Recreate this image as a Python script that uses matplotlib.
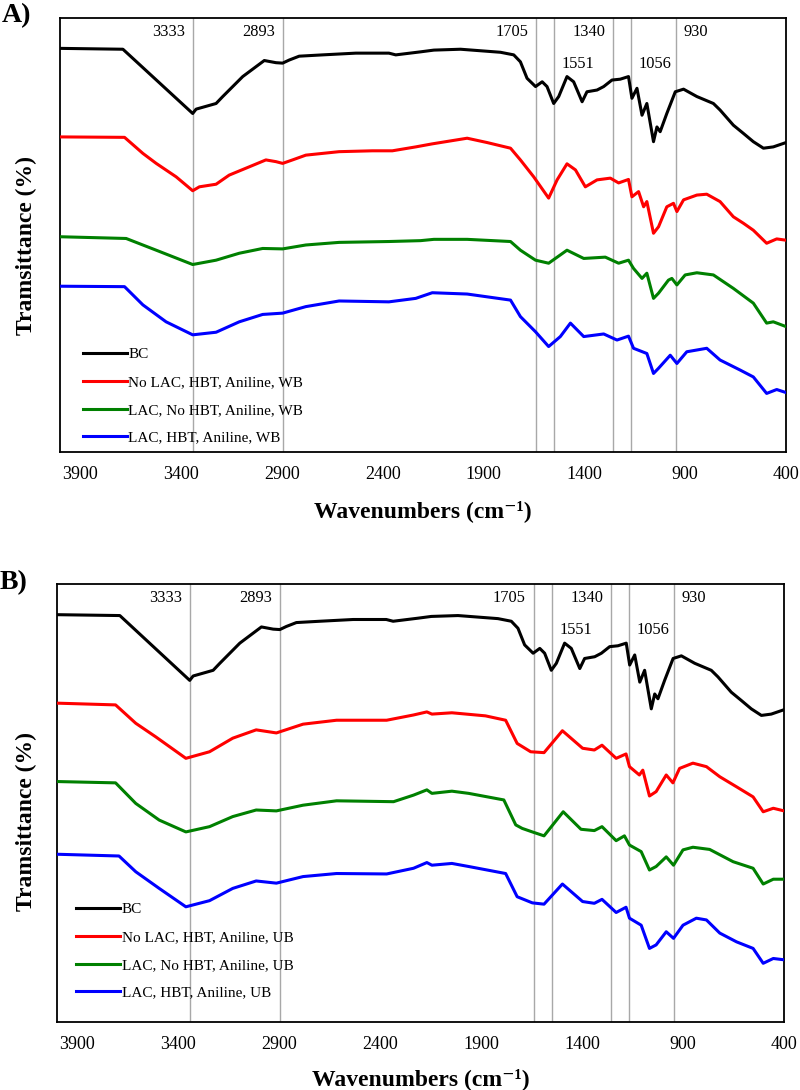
import matplotlib
matplotlib.use("Agg")
import matplotlib.pyplot as plt

plt.rcParams['font.family'] = ['Liberation Serif', 'DejaVu Serif']

# BC spectrum (same sample in both panels)
wn_bc = [4000, 3688, 3342, 3325, 3226, 3193, 3094, 2987, 2929, 2896, 2864, 2814, 2698, 2533, 2369, 2335, 2212, 2146,
         2014, 1816, 1750, 1717, 1684, 1642, 1609, 1585, 1552, 1527, 1486, 1453, 1411, 1387, 1337, 1304, 1263, 1222,
         1181, 1164, 1139, 1114, 1090, 1057, 1040, 1024, 991, 949, 908, 842, 760, 727, 661, 611, 562, 512, 463, 400]
t_bc = [93.0, 92.8, 78.0, 79.0, 80.3, 81.9, 86.5, 90.2, 89.7, 89.6, 90.3, 91.2, 91.5, 91.9, 91.9, 91.5, 92.2, 92.6,
        92.8, 92.1, 91.5, 89.9, 86.1, 84.2, 85.3, 84.2, 80.3, 81.9, 86.5, 85.3, 80.7, 83.0, 83.4, 84.2, 85.7, 85.9,
        86.5, 81.5, 83.8, 77.6, 80.3, 71.5, 74.9, 73.8, 78.0, 83.0, 83.6, 81.9, 80.3, 78.8, 75.3, 73.4, 71.5, 70.0,
        70.3, 71.3]

# panel A (WB)
wn_red_a = [4000, 3680, 3589, 3523, 3424, 3342, 3309, 3226, 3161, 3062, 2979, 2929, 2896, 2847, 2781, 2616, 2451, 2352,
            2236, 2154, 1981, 1882, 1766, 1717, 1651, 1577, 1535, 1486, 1444, 1395, 1337, 1271, 1230, 1181, 1164, 1131,
            1106, 1090, 1057, 1032, 991, 958, 941, 908, 842, 793, 727, 661, 611, 562, 496, 446, 400]
t_red_a = [72.6, 72.5, 68.8, 66.5, 63.4, 60.2, 61.1, 61.7, 63.8, 65.7, 67.3, 66.9, 66.5, 67.3, 68.4, 69.2, 69.4, 69.4,
           70.3, 71.0, 72.3, 71.3, 70.0, 67.3, 63.4, 58.5, 62.7, 66.4, 65.0, 61.1, 62.7, 63.1, 62.0, 62.8, 58.8, 60.0,
           56.5, 57.7, 50.4, 51.9, 56.5, 57.3, 55.4, 58.1, 59.2, 59.4, 57.7, 54.2, 52.7, 51.1, 48.1, 49.1, 48.8]

wn_green_a = [4000, 3672, 3523, 3342, 3226, 3111, 2995, 2896, 2781, 2616, 2369, 2212, 2146, 1981, 1766, 1717, 1642,
              1577, 1486, 1403, 1296, 1230, 1181, 1156, 1114, 1090, 1057, 1032, 983, 966, 941, 900, 842, 760, 661,
              562, 496, 463, 400]
t_green_a = [49.6, 49.2, 46.5, 43.2, 44.2, 45.8, 46.9, 46.8, 47.7, 48.3, 48.5, 48.7, 49.0, 49.0, 48.5, 46.5, 44.2,
             43.5, 46.5, 44.6, 44.9, 43.5, 44.2, 42.3, 40.0, 41.2, 35.4, 36.6, 39.6, 40.0, 38.5, 40.8, 41.3, 40.8, 37.7,
             34.3, 29.7, 30.0, 28.9]

wn_blue_a = [4000, 3680, 3589, 3474, 3342, 3226, 3111, 2995, 2896, 2781, 2616, 2369, 2236, 2154, 1981, 1766, 1717,
             1642, 1577, 1519, 1469, 1403, 1304, 1238, 1181, 1156, 1090, 1057, 1032, 974, 941, 892, 793, 727, 628,
             562, 496, 446, 400]
t_blue_a = [38.2, 38.1, 33.9, 30.0, 27.0, 27.6, 30.0, 31.7, 32.0, 33.5, 34.8, 34.6, 35.4, 36.7, 36.4, 35.0, 31.2,
            27.7, 24.3, 26.6, 29.7, 26.6, 27.2, 25.8, 26.7, 23.9, 22.7, 18.1, 19.3, 22.3, 20.4, 23.1, 23.9, 21.2, 18.9,
            17.3, 13.5, 14.4, 13.7]

# panel B (UB)
wn_red_b = [4000, 3709, 3609, 3510, 3361, 3244, 3129, 3013, 2913, 2781, 2615, 2367, 2234, 2168, 2143, 2044, 1878, 1778,
            1721, 1654, 1588, 1497, 1397, 1339, 1301, 1231, 1182, 1165, 1116, 1099, 1066, 1033, 983, 950, 917, 851,
            784, 718, 635, 553, 503, 453, 400]
t_red_b = [72.8, 72.4, 68.2, 65.1, 60.2, 61.7, 64.8, 66.7, 66.0, 68.0, 68.9, 68.9, 70.1, 70.8, 70.3, 70.6, 69.9, 68.9,
           63.6, 61.7, 61.5, 66.5, 62.5, 62.1, 63.2, 60.2, 61.2, 58.3, 56.4, 57.5, 51.6, 52.6, 56.4, 54.6, 57.9, 59.1,
           58.3, 56.0, 53.7, 51.4, 48.0, 48.8, 48.2]

wn_green_b = [4000, 3709, 3609, 3493, 3361, 3244, 3129, 3013, 2913, 2781, 2615, 2333, 2234, 2168, 2143, 2044, 1961,
              1787, 1728, 1696, 1646, 1588, 1493, 1405, 1339, 1301, 1231, 1190, 1165, 1107, 1066, 1033, 983, 947, 900,
              851, 768, 652, 553, 503, 453, 400]
t_green_b = [54.9, 54.6, 49.9, 46.1, 43.4, 44.6, 46.9, 48.4, 48.2, 49.5, 50.5, 50.3, 51.8, 53.0, 52.2, 52.7, 52.2,
             50.7, 45.0, 44.2, 43.4, 42.5, 48.0, 44.0, 43.7, 44.6, 41.4, 42.5, 40.4, 38.9, 34.7, 35.5, 37.7, 35.8, 39.3,
             39.9, 39.4, 36.6, 35.1, 31.5, 32.6, 32.6]

wn_blue_b = [4000, 3692, 3609, 3493, 3361, 3244, 3129, 3013, 2913, 2781, 2615, 2367, 2234, 2168, 2143, 2044, 1961,
             1778, 1721, 1646, 1588, 1497, 1397, 1339, 1301, 1231, 1182, 1165, 1107, 1066, 1033, 983, 947, 900, 834,
             784, 718, 635, 553, 503, 453, 400]
t_blue_b = [38.3, 37.9, 34.3, 30.5, 26.3, 27.7, 30.5, 32.2, 31.7, 33.2, 33.9, 33.8, 35.1, 36.4, 35.8, 36.2, 35.5,
            33.9, 28.6, 27.2, 26.9, 31.5, 27.5, 27.1, 28.0, 25.0, 26.2, 23.7, 22.1, 16.8, 17.6, 20.6, 19.1, 22.1, 23.7,
            23.3, 20.3, 18.3, 16.8, 13.4, 14.5, 14.2]

labels_a = ["BC", "No LAC, HBT, Aniline, WB", "LAC, No HBT, Aniline, WB", "LAC, HBT, Aniline, WB"]
labels_b = ["BC", "No LAC, HBT, Aniline, UB", "LAC, No HBT, Aniline, UB", "LAC, HBT, Aniline, UB"]
colors = ["black", "#ff0000", "#008000", "#0000ff"]

peak_lines = [3340, 2895, 1640, 1550, 1257, 1167, 945]
peak_labels = ["3333", "2893", "1705", "1551", "1340", "1056", "930"]
peak_side = [-1, -1, -1, 1, -1, 1, 1]   # text left (-1) or right (+1) of the line
peak_row = [0, 0, 0, 1, 0, 1, 0]

xticks = [3900, 3400, 2900, 2400, 1900, 1400, 900, 400]


def panel(ax, curves, labels, leg_xy, ylab_xy, xlab_y):
    for x in peak_lines:
        ax.axvline(x, color="#a8a8a8", lw=1.0, zorder=1)
    for (x, y), c, lab in zip(curves, colors, labels):
        ax.plot(x, y, color=c, lw=2.2, label=lab, zorder=3)
    for x, txt, side, row in zip(peak_lines, peak_labels, peak_side, peak_row):
        ax.annotate(txt, xy=(x, 0.968 - 0.074 * row), xycoords=("data", "axes fraction"),
                    xytext=(5.5 * side, 0), textcoords="offset points",
                    ha="left" if side > 0 else "right", va="center", fontsize=11.8)
    ax.set_xlim(4000, 400)
    ax.set_ylim(0, 100)
    ax.set_xticks(xticks)
    ax.set_yticks([])
    ax.tick_params(axis="x", length=0, pad=10, labelsize=13)
    for s in ax.spines.values():
        s.set_linewidth(1.3)
        s.set_color("black")
    ax.set_xlabel("Wavenumbers (cm⁻¹)", fontsize=17, fontweight="bold")
    ax.xaxis.set_label_coords(0.5, xlab_y)
    ax.set_ylabel("Tramsittance (%)", fontsize=17, fontweight="bold")
    ax.yaxis.set_label_coords(*ylab_xy)
    ax.legend(loc="lower left", bbox_to_anchor=leg_xy, frameon=False, fontsize=11,
              handlelength=2.85, handletextpad=0.1, labelspacing=0.92, borderaxespad=0, borderpad=0)


fig = plt.figure(figsize=(8, 10.9), dpi=100)
axA = fig.add_axes([0.075, 0.5853, 0.9075, 0.3982])
axB = fig.add_axes([0.071, 0.0624, 0.909, 0.4018])

panel(axA, [(wn_bc, t_bc), (wn_red_a, t_red_a), (wn_green_a, t_green_a), (wn_blue_a, t_blue_a)],
      labels_a, (0.032, 0.017), (-0.032, 0.475), -0.11)
panel(axB, [(wn_bc, t_bc), (wn_red_b, t_red_b), (wn_green_b, t_green_b), (wn_blue_b, t_blue_b)],
      labels_b, (0.027, 0.051), (-0.0275, 0.457), -0.105)

fig.text(0.002, 1 - 22 / 1090, "A)", fontsize=20, fontweight="bold", va="baseline")
fig.text(0.0, 1 - 589 / 1090, "B)", fontsize=20, fontweight="bold", va="baseline")

fig.savefig("out.png", dpi=100)
